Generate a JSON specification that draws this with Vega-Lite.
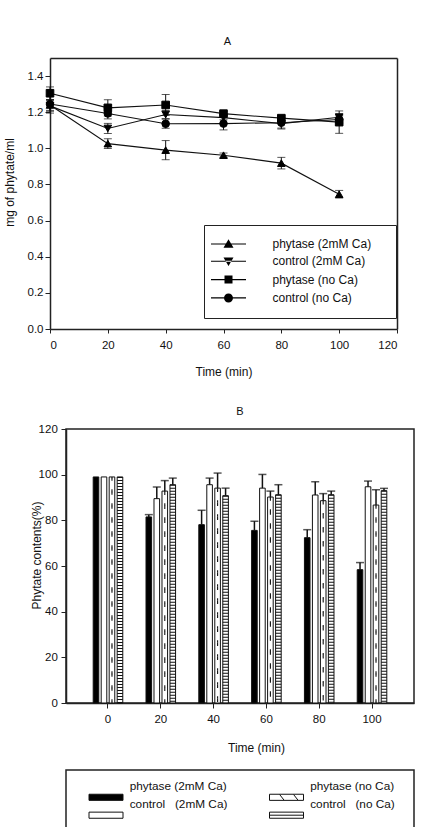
{
 "$schema": "https://vega.github.io/schema/vega-lite/v6.json",
 "padding": {"left": 3, "top": 36, "right": 0, "bottom": 0},
 "config": {
  "font": "Liberation Sans",
  "view": {"stroke": "#222", "strokeWidth": 1.5},
  "axis": {"domainColor": "#222", "domainWidth": 1.5, "tickColor": "#222", "tickWidth": 1, "labelColor": "#111", "titleColor": "#111", "labelFontSize": 11.5, "titleFontSize": 12, "titleFontWeight": "normal", "grid": false, "labelFont": "Liberation Sans", "titleFont": "Liberation Sans"},
  "legend": {"labelFontSize": 12, "labelFont": "Liberation Sans", "labelColor": "#111"},
  "title": {"fontSize": 11, "fontWeight": "normal", "color": "#111", "font": "Liberation Sans"}
 },
 "datasets": {
  "lines": [
   {"t":0,"s":"phytase (2mM Ca)","v":1.24,"e":0.03},
   {"t":20,"s":"phytase (2mM Ca)","v":1.026,"e":0.027},
   {"t":40,"s":"phytase (2mM Ca)","v":0.99,"e":0.053},
   {"t":60,"s":"phytase (2mM Ca)","v":0.962,"e":0.012},
   {"t":80,"s":"phytase (2mM Ca)","v":0.918,"e":0.032},
   {"t":100,"s":"phytase (2mM Ca)","v":0.746,"e":0.021},
   {"t":0,"s":"control (2mM Ca)","v":1.235,"e":0.03},
   {"t":20,"s":"control (2mM Ca)","v":1.11,"e":0.028},
   {"t":40,"s":"control (2mM Ca)","v":1.187,"e":0.022},
   {"t":60,"s":"control (2mM Ca)","v":1.17,"e":0.012},
   {"t":80,"s":"control (2mM Ca)","v":1.137,"e":0.03},
   {"t":100,"s":"control (2mM Ca)","v":1.172,"e":0.02},
   {"t":0,"s":"phytase (no Ca)","v":1.305,"e":0.035},
   {"t":20,"s":"phytase (no Ca)","v":1.224,"e":0.045},
   {"t":40,"s":"phytase (no Ca)","v":1.24,"e":0.058},
   {"t":60,"s":"phytase (no Ca)","v":1.192,"e":0.012},
   {"t":80,"s":"phytase (no Ca)","v":1.167,"e":0.014},
   {"t":100,"s":"phytase (no Ca)","v":1.145,"e":0.062},
   {"t":0,"s":"control (no Ca)","v":1.245,"e":0.05},
   {"t":20,"s":"control (no Ca)","v":1.193,"e":0.03},
   {"t":40,"s":"control (no Ca)","v":1.136,"e":0.025},
   {"t":60,"s":"control (no Ca)","v":1.137,"e":0.035},
   {"t":80,"s":"control (no Ca)","v":1.142,"e":0.03},
   {"t":100,"s":"control (no Ca)","v":1.16,"e":0.02}
  ],
  "bars": [
   {"t":"0","s":"phytase (2mM Ca)","v":99,"hi":null},
   {"t":"0","s":"control (2mM Ca)","v":99,"hi":null},
   {"t":"0","s":"phytase (no Ca)","v":99,"hi":null},
   {"t":"0","s":"control (no Ca)","v":99,"hi":null},
   {"t":"20","s":"phytase (2mM Ca)","v":81.5,"hi":82.5},
   {"t":"20","s":"control (2mM Ca)","v":89.5,"hi":94.6},
   {"t":"20","s":"phytase (no Ca)","v":92.8,"hi":97.4},
   {"t":"20","s":"control (no Ca)","v":95.6,"hi":98.5},
   {"t":"40","s":"phytase (2mM Ca)","v":78.1,"hi":84.4},
   {"t":"40","s":"control (2mM Ca)","v":95.6,"hi":98.5},
   {"t":"40","s":"phytase (no Ca)","v":94.1,"hi":100.7},
   {"t":"40","s":"control (no Ca)","v":90.8,"hi":94.1},
   {"t":"60","s":"phytase (2mM Ca)","v":75.6,"hi":79.6},
   {"t":"60","s":"control (2mM Ca)","v":94.1,"hi":100.1},
   {"t":"60","s":"phytase (no Ca)","v":90.2,"hi":92.8},
   {"t":"60","s":"control (no Ca)","v":91.2,"hi":95.6},
   {"t":"80","s":"phytase (2mM Ca)","v":72.4,"hi":75.9},
   {"t":"80","s":"control (2mM Ca)","v":91.1,"hi":96.9},
   {"t":"80","s":"phytase (no Ca)","v":88.6,"hi":91.7},
   {"t":"80","s":"control (no Ca)","v":91.2,"hi":92.8},
   {"t":"100","s":"phytase (2mM Ca)","v":58.4,"hi":61.5},
   {"t":"100","s":"control (2mM Ca)","v":94.7,"hi":97.2},
   {"t":"100","s":"phytase (no Ca)","v":86.7,"hi":93.4},
   {"t":"100","s":"control (no Ca)","v":93.0,"hi":94.0}
  ],
  "keys": [
   {"s":"phytase (2mM Ca)","label":"phytase (2mM Ca)","ca":"2mM Ca","tr":"phytase"},
   {"s":"control (2mM Ca)","label":"control\u00a0\u00a0\u00a0(2mM Ca)","ca":"2mM Ca","tr":"control"},
   {"s":"phytase (no Ca)","label":"phytase (no Ca)","ca":"no Ca","tr":"phytase"},
   {"s":"control (no Ca)","label":"control\u00a0\u00a0\u00a0(no Ca)","ca":"no Ca","tr":"control"}
  ]
 },
 "resolve": {"scale": {"shape": "independent", "fill": "independent"}},
 "spacing": 27,
 "vconcat": [
  {
   "width": 331, "height": 271,
   "view": {"stroke": null},
   "title": {"text": "A", "offset": 11, "dx": -4},
   "data": {"name": "lines"},
   "layer": [
    {"mark": {"type": "errorbar", "ticks": {"size": 8}, "color": "#111", "thickness": 1},
     "encoding": {
      "x": {"field": "t", "type": "quantitative", "axis": null},
      "y": {"field": "v", "type": "quantitative", "axis": null},
      "yError": {"field": "e"}
     }},
    {"mark": {"type": "line", "color": "#111", "strokeWidth": 1.1},
     "encoding": {
      "x": {"field": "t", "type": "quantitative", "scale": {"domain": [0, 120], "range": [-16, 331], "nice": false, "zero": false},
            "axis": {"values": [0,20,40,60,80,100,120], "tickSize": 4, "labelPadding": 6, "title": "Time (min)", "titlePadding": 16}},
      "y": {"field": "v", "type": "quantitative", "scale": {"domain": [0, 1.5], "nice": false},
            "axis": {"offset": 16, "values": [0,0.2,0.4,0.6,0.8,1.0,1.2,1.4], "format": ".1f", "tickSize": 5, "labelPadding": 2, "title": "mg of phytate/ml", "titlePadding": 11, "titleY": 124}},
      "detail": {"field": "s"}
     }},
    {"mark": {"type": "point", "filled": false, "fill": "#000", "stroke": "#000", "strokeWidth": 1, "size": 58, "opacity": 1},
     "encoding": {
      "x": {"field": "t", "type": "quantitative", "axis": {"orient": "top", "labels": false, "ticks": false, "title": null}},
      "y": {"field": "v", "type": "quantitative", "axis": {"orient": "right", "labels": false, "ticks": false, "title": null}},
      "shape": {"field": "s", "type": "nominal",
        "scale": {"domain": ["phytase (2mM Ca)", "control (2mM Ca)", "phytase (no Ca)", "control (no Ca)"], "range": ["triangle-up", "triangle-down", "square", "circle"]},
        "legend": null}
     }},
    {"transform": [{"filter": "false"}],
     "mark": {"type": "point", "filled": true, "color": "#000", "size": 100, "opacity": 1},
     "encoding": {
      "x": {"field": "t", "type": "quantitative", "axis": null},
      "y": {"field": "v", "type": "quantitative", "axis": null},
      "shape": {"field": "s", "type": "nominal",
        "scale": {"domain": ["phytase (2mM Ca)", "control (2mM Ca)", "phytase (no Ca)", "control (no Ca)"],
                  "range": ["M-3.5,-0.11H3.5V0.11H-3.5ZM0,-0.95L1,0.75L-1,0.75Z", "M-3.5,-0.11H3.5V0.11H-3.5ZM0,0.95L1,-0.75L-1,-0.75Z", "M-3.5,-0.11H3.5V0.11H-3.5ZM-0.8,-0.8H0.8V0.8H-0.8Z", "M-3.5,-0.11H3.5V0.11H-3.5ZM0.9,0A0.9,0.9,0,1,1,-0.9,0A0.9,0.9,0,1,1,0.9,0Z"]},
        "legend": {"orient": "none", "legendX": 138, "legendY": 167, "title": "nr", "titleOrient": "right", "titleColor": "#fff", "titleFontSize": 12, "titleFontWeight": "normal", "titlePadding": 1, "padding": 13, "rowPadding": 5.3, "symbolSize": 100, "symbolOffset": 5.5, "labelOffset": 38, "labelFontSize": 12, "labelColor": "#111", "symbolFillColor": "#000", "symbolStrokeColor": "#000", "symbolStrokeWidth": 1, "symbolOpacity": 1, "strokeColor": "#222", "fillColor": "#fff",
          "encode": {
           "labels": {"fontSize": {"value": 12}},
           "legend": {"strokeWidth": {"value": 1.5}}
          }}
      }
     }}
   ],
   "resolve": {"axis": {"x": "independent", "y": "independent"}, "scale": {"shape": "independent"}}
  },
  {
   "spacing": 14,
   "resolve": {"scale": {"shape": "independent", "fill": "independent"}},
   "vconcat": [
    {
     "width": 348, "height": 274,
     "title": {"text": "B", "offset": 5.7},
     "data": {"name": "bars"},
     "encoding": {
      "x": {"field": "t", "type": "ordinal", "scale": {"domain": ["0","20","40","60","80","100"], "paddingInner": 0.44, "paddingOuter": 0.515},
            "axis": {"title": "Time (min)", "labelAngle": 0, "tickSize": 5, "labelPadding": 5.4, "titleX": 190, "titleY": 39.5}},
      "xOffset": {"field": "s", "type": "nominal", "scale": {"domain": ["phytase (2mM Ca)", "control (2mM Ca)", "phytase (no Ca)", "control (no Ca)"], "paddingInner": 0.3, "paddingOuter": 0}}
     },
     "layer": [
      {"mark": {"type": "bar", "stroke": "#111", "strokeWidth": 1},
       "encoding": {
        "y": {"field": "v", "type": "quantitative", "scale": {"domain": [0, 120], "nice": false},
              "axis": {"values": [0,20,40,60,80,100,120], "tickSize": 5, "labelPadding": 3.7, "title": "Phytate contents(%)", "titlePadding": -5, "titleY": 126}},
        "fill": {"field": "s", "type": "nominal", "scale": {"domain": ["phytase (2mM Ca)", "control (2mM Ca)", "phytase (no Ca)", "control (no Ca)"], "range": ["#000", "#fff", "#fff", "#fff"]}, "legend": null}
       }},
      {"transform": [{"filter": "datum.s === 'control (no Ca)'"}],
       "mark": {"type": "rule", "strokeWidth": 5.6, "strokeDash": [1, 2], "color": "#111"},
       "encoding": {"y": {"field": "v", "type": "quantitative"}, "y2": {"datum": 0}}},
      {"transform": [{"filter": "datum.s === 'phytase (no Ca)'"}],
       "mark": {"type": "rule", "strokeWidth": 1.1, "strokeDash": [2, 12], "strokeDashOffset": 1.8, "xOffset": -1.7, "color": "#111"},
       "encoding": {"y": {"field": "v", "type": "quantitative"}, "y2": {"datum": 0}}},
      {"transform": [{"filter": "datum.s === 'phytase (no Ca)'"}],
       "mark": {"type": "rule", "strokeWidth": 1.1, "strokeDash": [2, 12], "strokeDashOffset": 0, "color": "#111"},
       "encoding": {"y": {"field": "v", "type": "quantitative"}, "y2": {"datum": 0}}},
      {"transform": [{"filter": "datum.s === 'phytase (no Ca)'"}],
       "mark": {"type": "rule", "strokeWidth": 1.1, "strokeDash": [2, 12], "strokeDashOffset": -1.8, "xOffset": 1.7, "color": "#111"},
       "encoding": {"y": {"field": "v", "type": "quantitative"}, "y2": {"datum": 0}}},
      {"mark": {"type": "rule", "strokeWidth": 1.5, "color": "#111"},
       "encoding": {"y": {"field": "hi", "type": "quantitative"}, "y2": {"field": "v"}}},
      {"mark": {"type": "tick", "orient": "horizontal", "size": 8, "thickness": 1.5, "color": "#111"},
       "encoding": {"y": {"field": "hi", "type": "quantitative"}}}
     ]
    },
    {
     "width": 348, "height": 70,
     "data": {"name": "keys"},
     "encoding": {
      "x": {"field": "ca", "type": "nominal", "scale": {"type": "point", "domain": ["2mM Ca", "no Ca"], "range": [40, 220.5], "padding": 0}, "axis": null},
      "y": {"field": "tr", "type": "nominal", "scale": {"type": "point", "domain": ["phytase", "control"], "range": [27.3, 45.2], "padding": 0}, "axis": null}
     },
     "layer": [
      {"mark": {"type": "point", "filled": true, "size": 1156, "stroke": "#111", "strokeWidth": 1, "opacity": 1},
       "encoding": {
        "shape": {"field": "s", "type": "nominal", "scale": {"domain": ["phytase (2mM Ca)", "control (2mM Ca)", "phytase (no Ca)", "control (no Ca)"], "range": ["M-1,-0.18H1V0.18H-1Z", "M-1,-0.18H1V0.18H-1Z", "M-1,-0.18H1V0.18H-1ZM-0.4,-0.16L-0.15,0.16M0.42,-0.16L0.67,0.16", "M-1,-0.18H1V0.18H-1ZM-1,0H1"]}, "legend": null},
        "fill": {"field": "s", "type": "nominal", "scale": {"domain": ["phytase (2mM Ca)", "control (2mM Ca)", "phytase (no Ca)", "control (no Ca)"], "range": ["#000", "#fff", "#fff", "#fff"]}, "legend": null}
       }},
      {"mark": {"type": "text", "align": "left", "baseline": "alphabetic", "dx": 23.7, "dy": -7.5, "fontSize": 11.8, "color": "#111"},
       "encoding": {"text": {"field": "label"}}}
     ]
    }
   ]
  }
 ]
}
